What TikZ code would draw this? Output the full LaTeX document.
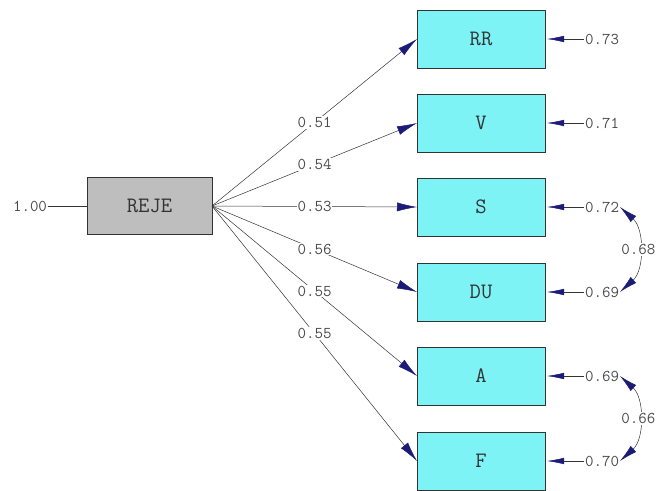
\documentclass[tikz,border=0pt]{standalone}
\usepackage{fontspec}
\usepackage{tkz-graph}
\usetikzlibrary{arrows, arrows.meta}
\definecolor{boxcyan}{RGB}{126,243,246}
\definecolor{boxgray}{RGB}{190,190,190}
\definecolor{tipblue}{RGB}{28,28,118}
\definecolor{inkgray}{RGB}{75,75,75}

\begin{document}
\begin{tikzpicture}[x = 1pt, y = -1pt,
  VertexStyle/.style = {rectangle, draw = black!80, line width = 0.8pt, fill = boxcyan,
    minimum width = 128pt, minimum height = 58pt, text = black!80,
    font = \ttfamily\fontsize{22}{22}\selectfont},
  EdgeStyle/.style = {draw = black!80, line width = 0.5pt},
  LabelStyle/.style = {fill = white, inner sep = 1pt, text = inkgray,
    font = \ttfamily\fontsize{16.5}{16.5}\selectfont},
  numtext/.style = {draw = none, fill = none, minimum width = 0pt, minimum height = 0pt,
    inner sep = 1pt, text = inkgray, font = \ttfamily\fontsize{16.5}{16.5}\selectfont},
  onetip/.style = {-{Latex[color = tipblue, length = 20pt, width = 9pt]}},
  errtip/.style = {-{Latex[color = tipblue, length = 17pt, width = 6.5pt]}, shorten > = 2pt},
  twotips/.style = {{Latex[color = tipblue, length = 18pt, width = 8pt]}-{Latex[color = tipblue, length = 18pt, width = 8pt]}}]
\useasboundingbox (0, 0) rectangle (656, 490);
% latent variable
\begin{scope}[VertexStyle/.append style = {fill = boxgray, minimum width = 125pt, minimum height = 57pt}]
\Vertex[x = 149.5, y = 206, L = REJE]{REJE}
\end{scope}
% indicators
\Vertex[x = 481, y = 39, L = RR]{RR}
\Vertex[x = 481, y = 123, L = V]{V}
\Vertex[x = 481, y = 207, L = S]{S}
\Vertex[x = 481, y = 292, L = DU]{DU}
\Vertex[x = 481, y = 376, L = A]{A}
\Vertex[x = 481, y = 461, L = F]{F}
% error variances
\begin{scope}[VertexStyle/.style = {numtext}]
\Vertex[x = 30, y = 206, L = 1.00]{vREJE}
\Vertex[x = 602, y = 39, L = 0.73]{eRR}
\Vertex[x = 602, y = 123, L = 0.71]{eV}
\Vertex[x = 602, y = 207, L = 0.72]{eS}
\Vertex[x = 602, y = 292, L = 0.69]{eDU}
\Vertex[x = 602, y = 376, L = 0.69]{eA}
\Vertex[x = 602, y = 461, L = 0.70]{eF}
\end{scope}
% loadings
\Edge(vREJE)(REJE)
\Edge[style = {onetip}, label = 0.51](REJE.east)(RR.west)
\Edge[style = {onetip}, label = 0.54](REJE.east)(V.west)
\Edge[style = {onetip}, label = 0.53](REJE.east)(S.west)
\Edge[style = {onetip}, label = 0.56](REJE.east)(DU.west)
\Edge[style = {onetip}, label = 0.55](REJE.east)(A.west)
\Edge[style = {onetip}, label = 0.55](REJE.east)(F.west)
% errors
\Edge[style = {errtip}](eRR)(RR)
\Edge[style = {errtip}](eV)(V)
\Edge[style = {errtip}](eS)(S)
\Edge[style = {errtip}](eDU)(DU)
\Edge[style = {errtip}](eA)(A)
\Edge[style = {errtip}](eF)(F)
% error covariances
\Edge[style = {twotips, bend left = 48}, label = 0.68](eS.east)(eDU.east)
\Edge[style = {twotips, bend left = 48}, label = 0.66](eA.east)(eF.east)
\end{tikzpicture}
\end{document}
